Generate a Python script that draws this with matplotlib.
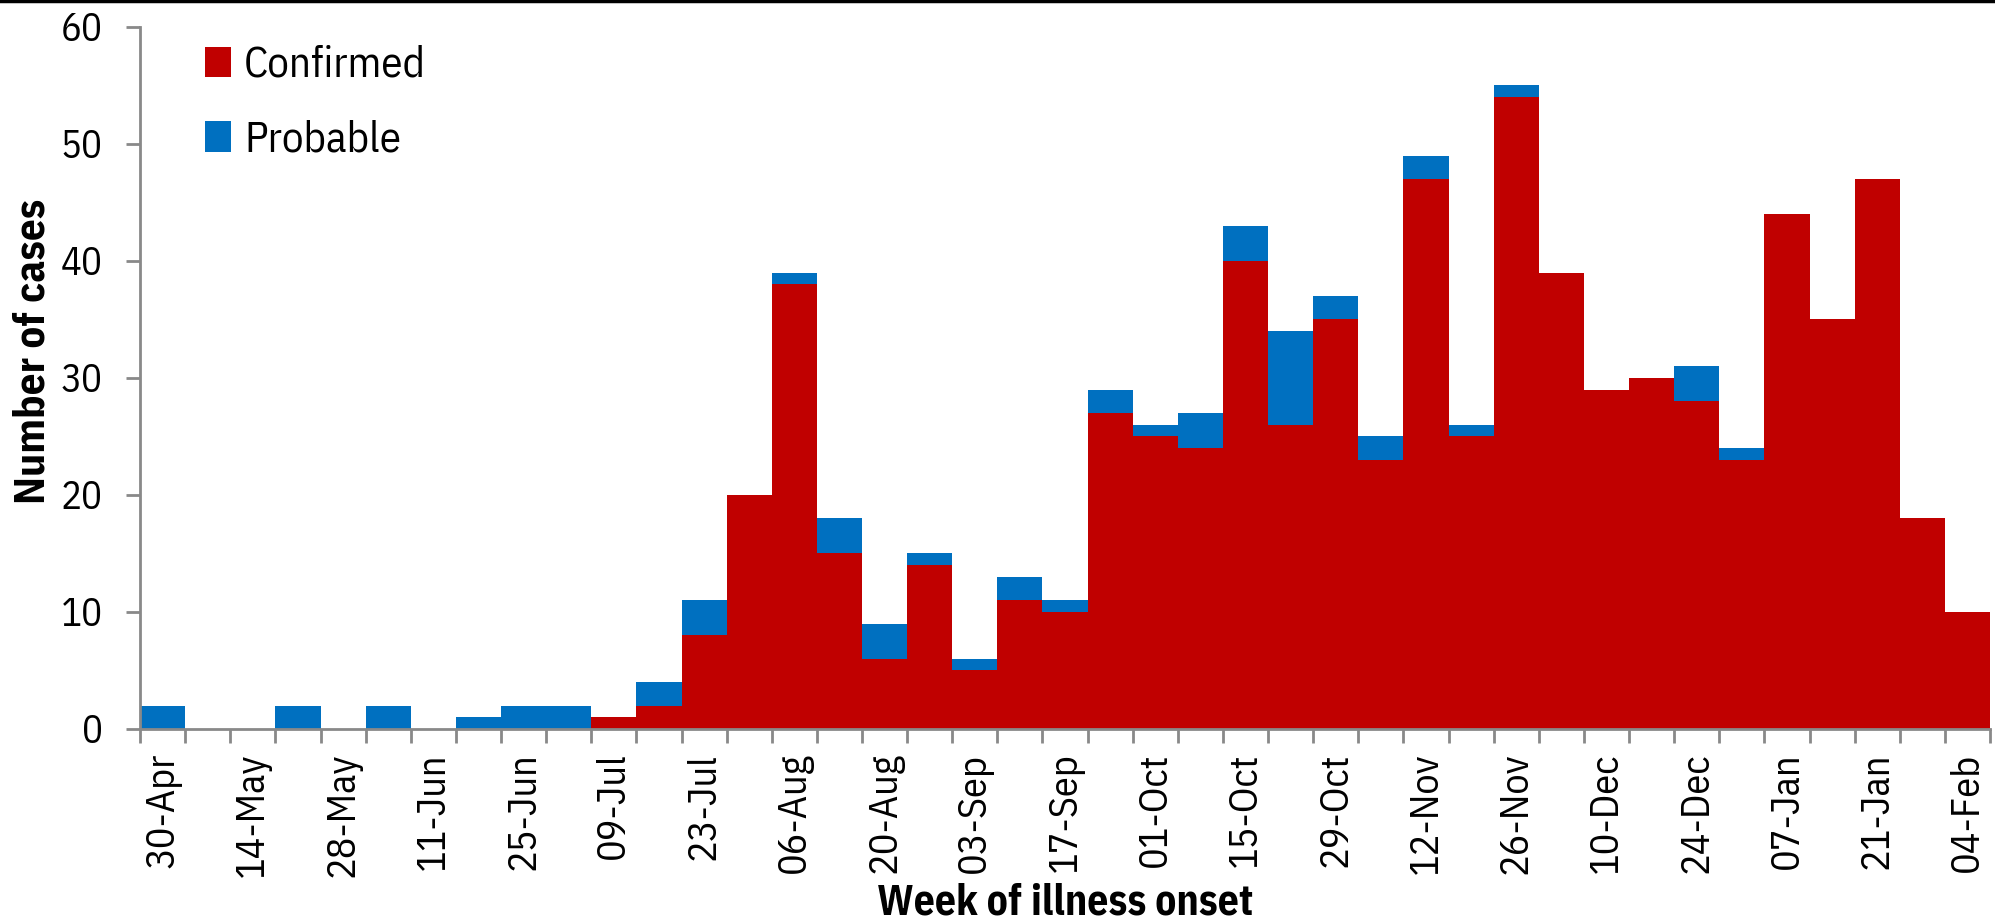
import numpy as np
import matplotlib.pyplot as plt
from matplotlib.lines import Line2D

CONFIRMED_COLOR = "#C00000"
PROBABLE_COLOR = "#0070C0"
AXIS_COLOR = "#898989"

plt.rcParams['font.family'] = ['IBM Plex Sans Condensed', 'DejaVu Sans']

# weekly epi curve, week of illness onset
weeks = ["30-Apr", "07-May", "14-May", "21-May", "28-May", "04-Jun", "11-Jun",
         "18-Jun", "25-Jun", "02-Jul", "09-Jul", "16-Jul", "23-Jul", "30-Jul",
         "06-Aug", "13-Aug", "20-Aug", "27-Aug", "03-Sep", "10-Sep", "17-Sep",
         "24-Sep", "01-Oct", "08-Oct", "15-Oct", "22-Oct", "29-Oct", "05-Nov",
         "12-Nov", "19-Nov", "26-Nov", "03-Dec", "10-Dec", "17-Dec", "24-Dec",
         "31-Dec", "07-Jan", "14-Jan", "21-Jan", "28-Jan", "04-Feb"]
confirmed = [0, 0, 0, 0, 0, 0, 0, 0, 0, 0, 1, 2, 8, 20, 38, 15, 6, 14, 5, 11, 10,
             27, 25, 24, 40, 26, 35, 23, 47, 25, 54, 39, 29, 30, 28, 23, 44, 35, 47, 18, 10]
probable = [2, 0, 0, 2, 0, 2, 0, 1, 2, 2, 0, 2, 3, 0, 1, 3, 3, 1, 1, 2, 1,
            2, 1, 3, 3, 8, 2, 2, 2, 1, 1, 0, 0, 0, 3, 1, 0, 0, 0, 0, 0]

x = np.arange(len(weeks))

fig = plt.figure(figsize=(19.95, 9.21), dpi=100)
ax = fig.add_axes([0.0702, 0.2085, 0.9273, 0.7622])

ax.bar(x, confirmed, width=1.0, color=CONFIRMED_COLOR, linewidth=0, label="Confirmed")
ax.bar(x, probable, width=1.0, bottom=confirmed, color=PROBABLE_COLOR, linewidth=0, label="Probable")

ax.set_xlim(-0.5, len(weeks) - 0.5)
ax.set_ylim(0, 60)
ax.set_yticks(np.arange(0, 61, 10))

ax.set_xticks(x[::2])
ax.set_xticklabels(weeks[::2], rotation=90)
ax.set_xticks(np.arange(-0.5, len(weeks), 1), minor=True)
ax.tick_params(axis="x", which="major", length=0, pad=17, labelsize=29)
ax.tick_params(axis="x", which="minor", length=10, width=2, color=AXIS_COLOR)
ax.tick_params(axis="y", length=10, width=2, color=AXIS_COLOR, pad=17, labelsize=28)

for s in ["top", "right"]:
    ax.spines[s].set_visible(False)
for s in ["left", "bottom"]:
    ax.spines[s].set_color(AXIS_COLOR)
    ax.spines[s].set_linewidth(2)

ax.set_ylabel("Number of cases", fontsize=31, fontweight="bold")
ax.yaxis.set_label_coords(-0.058, 0.538)
ax.yaxis.label.set_va("center")
ax.set_xlabel("Week of illness onset", fontsize=30, fontweight="bold")
ax.xaxis.set_label_coords(0.5, -0.218)

ax.legend(loc="upper left", bbox_to_anchor=(0.026, 0.999), frameon=False, fontsize=31,
          handlelength=0.6, handleheight=0.72, handletextpad=0.3, labelspacing=0.78,
          borderaxespad=0)

# black rule along the top edge of the picture
fig.add_artist(Line2D([0, 1], [0.999, 0.999], transform=fig.transFigure, color="black", lw=2.5))

fig.savefig("out.png", dpi=100)
